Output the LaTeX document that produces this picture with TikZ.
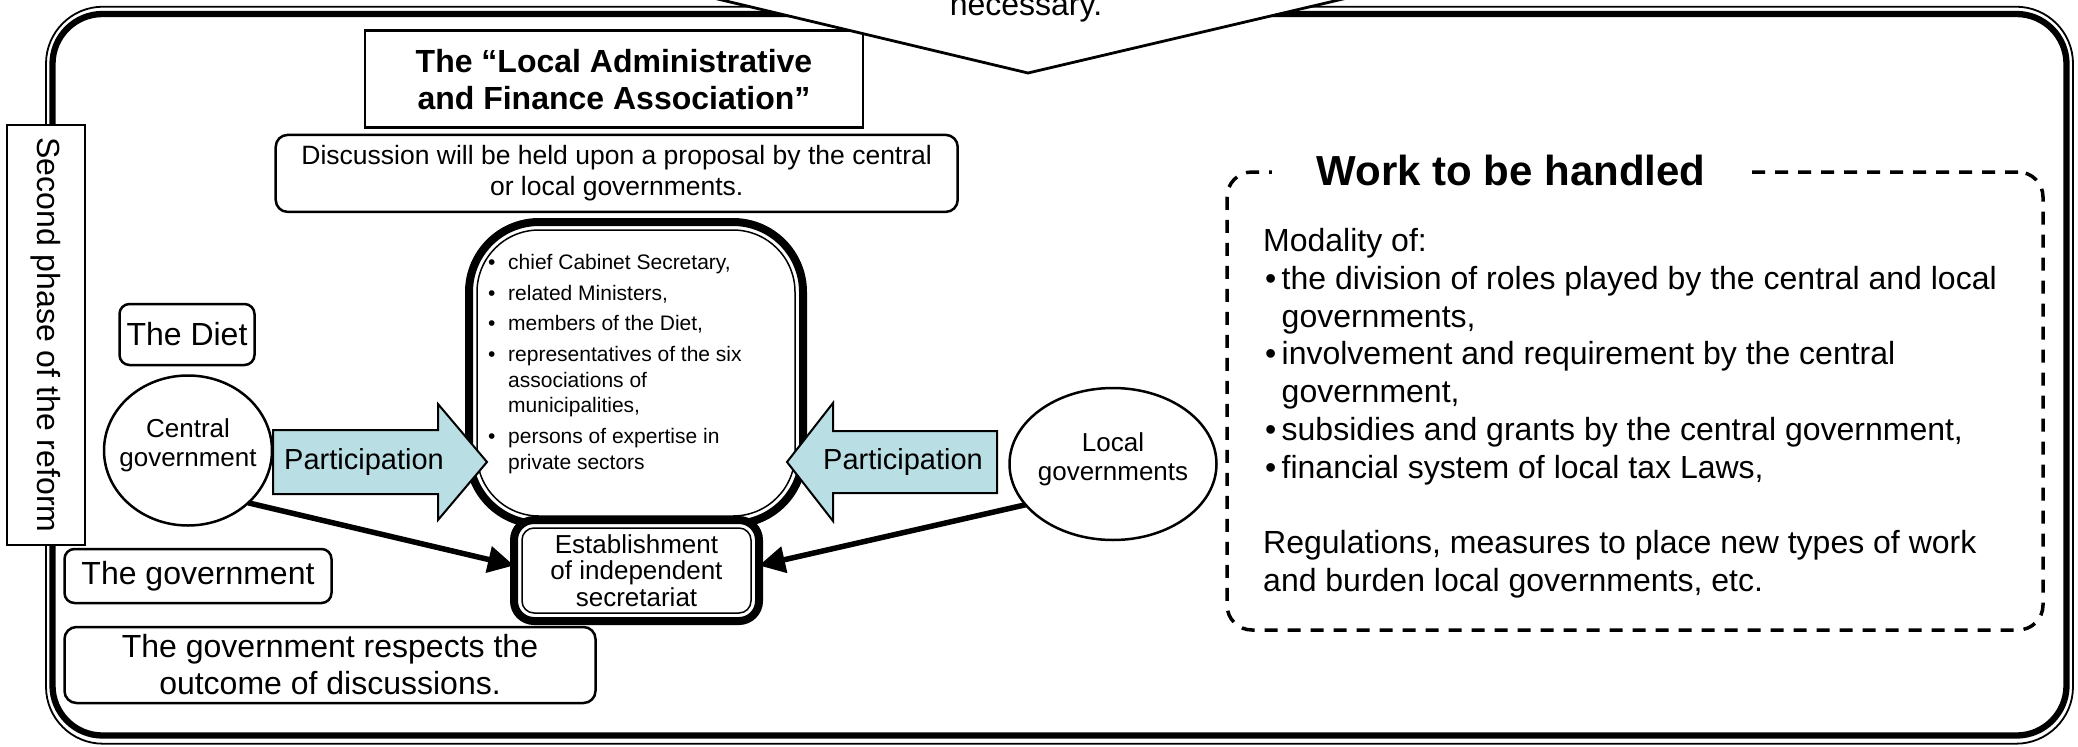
\documentclass[tikz,border=0pt]{standalone}
\usepackage{fontspec}
\setmainfont{Liberation Sans}
\usetikzlibrary{arrows.meta,shapes.geometric}
\definecolor{partfill}{RGB}{185,222,228}
\newcommand\fsL{\fontsize{32}{37}\selectfont}
\newcommand\fsD{\fontsize{26.5}{31}\selectfont}
\newcommand\fsC{\fontsize{26}{29}\selectfont}
\newcommand\fsE{\fontsize{26}{26.5}\selectfont}
\newcommand\fsP{\fontsize{29}{34}\selectfont}
\newcommand\fsS{\fontsize{21}{25.7}\selectfont}
\newcommand\fsR{\fontsize{32}{37.8}\selectfont}
\newcommand\fsW{\fontsize{42}{48}\selectfont}
\begin{document}
\begin{tikzpicture}[x=1pt,y=-1pt,
  box/.style={draw, line width=2.5pt, fill=white, inner sep=0pt, outer sep=0pt, align=center},
  rbox/.style={box, rounded corners=12pt},
  dbl/.style={draw, line width=8pt, fill=white, outer sep=0pt, inner sep=0pt},
  oval/.style={ellipse, draw, line width=2.5pt, fill=white, inner sep=0pt, outer sep=0pt},
  txt/.style={inner sep=0pt, align=center},
  conn/.style={line width=5.5pt, -{Triangle[length=26pt,width=26pt]}},
  partarrow/.style={draw, line width=2pt, fill=partfill, line join=miter},
  inner/.style={line width=1.5pt}
]
\useasboundingbox (0,0) rectangle (2078,747);
\clip (0,0) rectangle (2078,747);

% outer frame
\draw[line width=6.3pt, rounded corners=50pt] (52.5,14) rectangle (2066.5,735.5);
\draw[line width=1.8pt, rounded corners=57pt] (46,6.7) rectangle (2073,743.7);

% phase label
\node[box, line width=2.3pt, rotate=-90, minimum width=420pt, minimum height=78pt, font=\fsL] (phase) at (46,335) {Second phase of the reform};

% association title
\node[box, minimum width=498pt, minimum height=97pt, font=\bfseries\fsL] (assoc) at (614,79.2) {The “Local Administrative\\and Finance Association”};

% discussion
\node[rbox, minimum width=682pt, minimum height=77pt, font=\fsD] (disc) at (616.7,173.4) {Discussion will be held upon a proposal by the central\\or local governments.};

% the diet
\node[rbox, rounded corners=10pt, minimum width=135pt, minimum height=61pt, font=\fsL] (diet) at (187,334.5) {The Diet};

% central government
\node[oval, minimum width=168pt, minimum height=150pt] (cg) at (188,450.5) {};
\node[txt, font=\fsC] (cgt) at (188,445) {Central\\government};

% the government
\node[rbox, rounded corners=10pt, minimum width=267pt, minimum height=54pt, font=\fsL] (gov) at (198,576) {The government};

% respects
\node[rbox, minimum width=531pt, minimum height=76pt, font=\fsL] (resp) at (330,665) {The government respects the\\outcome of discussions.};

% local governments
\node[oval, minimum width=207pt, minimum height=152pt] (lg) at (1113,464) {};
\node[txt, font=\fsC] (lgt) at (1113,459.5) {Local\\governments};

% council box
\node[dbl, rounded corners=70pt, minimum width=334pt, minimum height=302pt] (council) at (636,373) {};
\draw[inner, rounded corners=62pt] ([shift={(8,8)}]council.north west) rectangle ([shift={(-8,-8)}]council.south east);
\node[anchor=base west, inner sep=0pt, font=\fsS] (members) at (488,269.3) {\vtop{\baselineskip=25.7pt
  \hbox{\makebox[20pt][l]{•}chief Cabinet Secretary,}\vskip5pt
  \hbox{\makebox[20pt][l]{•}related Ministers,}\vskip5pt
  \hbox{\makebox[20pt][l]{•}members of the Diet,}\vskip5pt
  \hbox{\makebox[20pt][l]{•}representatives of the six}
  \hbox{\hskip20pt associations of}
  \hbox{\hskip20pt municipalities,}\vskip5pt
  \hbox{\makebox[20pt][l]{•}persons of expertise in}
  \hbox{\hskip20pt private sectors}}};

% secretariat
\node[dbl, rounded corners=20pt, minimum width=245pt, minimum height=101pt, align=center, font=\fsE] (est) at (636.5,570.5) {Establishment\\of independent\\secretariat};
\draw[inner, rounded corners=12pt] ([shift={(8,8)}]est.north west) rectangle ([shift={(-8,-8)}]est.south east);

% participation arrows
\draw[partarrow] (273,430) -- (438,430) -- (438,404) -- (487,462) -- (438,520) -- (438,494) -- (273,494) -- cycle;
\node[font=\fsP, inner sep=0pt] (pl) at (364,462) {Participation};
\draw[partarrow] (997,431) -- (833,431) -- (833,403) -- (787,462) -- (833,521) -- (833,493) -- (997,493) -- cycle;
\node[font=\fsP, inner sep=0pt] (pr) at (903,462) {Participation};

% connectors
\draw[conn] (cg.-41) -- ([yshift=5pt]est.west);
\draw[conn] (lg.205) -- ([yshift=5pt]est.east);

% work to be handled
\node[draw, line width=3.5pt, dash pattern=on 13pt off 10pt, rounded corners=25pt, minimum width=816pt, minimum height=458pt, inner sep=0pt, outer sep=0pt] (work) at (1635,401) {};
\node[fill=white, inner xsep=45pt, inner ysep=3pt, font=\bfseries\fsW, anchor=base] (workt) at (1511,185) {Work to be handled};
\node[anchor=base west, inner sep=0pt, font=\fsR] (worklist) at (1263,251.5) {\vtop{\baselineskip=37.8pt
  \hbox{Modality of:}
  \hbox{\makebox[18.5pt][l]{\hskip2pt •}the division of roles played by the central and local}
  \hbox{\hskip18.5pt governments,}
  \hbox{\makebox[18.5pt][l]{\hskip2pt •}involvement and requirement by the central}
  \hbox{\hskip18.5pt government,}
  \hbox{\makebox[18.5pt][l]{\hskip2pt •}subsidies and grants by the central government,}
  \hbox{\makebox[18.5pt][l]{\hskip2pt •}financial system of local tax Laws,}
  \hbox{}
  \hbox{Regulations, measures to place new types of work}
  \hbox{and burden local governments, etc.}}};

% callout
\draw[line width=2.8pt, fill=white, line join=miter] (554,-40) -- (1028,73) -- (1509,-40) -- cycle;
\node[font=\fsL, anchor=base, inner sep=0pt] (callt) at (1026,15) {necessary.};
\end{tikzpicture}
\end{document}
